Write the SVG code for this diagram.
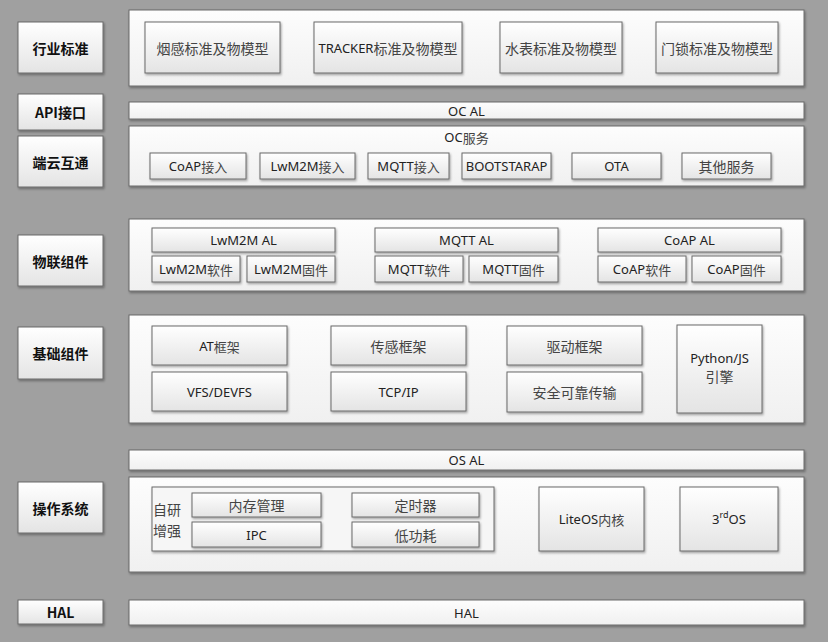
<svg xmlns="http://www.w3.org/2000/svg" width="828" height="642" viewBox="0 0 828 642">
<defs>
<linearGradient id="g" x1="0" y1="0" x2="0" y2="1">
<stop offset="0" stop-color="#ffffff"/>
<stop offset="1" stop-color="#e4e4e4"/>
</linearGradient>
<linearGradient id="gp" x1="0" y1="0" x2="0" y2="1">
<stop offset="0" stop-color="#fdfdfd"/>
<stop offset="1" stop-color="#f0f0f0"/>
</linearGradient>
<filter id="sh" x="-5%" y="-5%" width="115%" height="130%">
<feDropShadow dx="1" dy="1.5" stdDeviation="0.8" flood-color="#000" flood-opacity="0.35"/>
</filter>
</defs>
<style>
.bg{fill:#a0a0a0}
.lbl{fill:url(#g);stroke:#6a6a6a;stroke-width:1;filter:url(#sh)}
.pn{fill:url(#gp);stroke:#6a6a6a;stroke-width:1;filter:url(#sh)}
.bx{fill:url(#g);stroke:#6a6a6a;stroke-width:1;filter:url(#sh)}
.ct{fill:#f6f6f6;stroke:#6a6a6a;stroke-width:1;filter:url(#sh)}
text{font-family:"Noto Sans","Noto Sans CJK SC",sans-serif;font-size:13px;fill:#222;text-anchor:middle;dominant-baseline:central}
.h{font-family:"Noto Sans CJK SC",sans-serif;font-weight:bold;font-size:14px;fill:#111}
.c{font-family:"Noto Sans CJK SC",sans-serif;font-size:14px;fill:#444}
</style>
<rect class="bg" x="0" y="0" width="828" height="642"/>

<g id="labels">
<g id="lbl-industry"><rect class="lbl" x="18" y="22" width="85" height="51"/><text class="h" x="60.5" y="47.5">行业标准</text></g>
<g id="lbl-api"><rect class="lbl" x="18" y="94" width="85" height="36"/><text class="h" x="60.5" y="112">API接口</text></g>
<g id="lbl-cloud"><rect class="lbl" x="18" y="136" width="85" height="51"/><text class="h" x="60.5" y="161.5">端云互通</text></g>
<g id="lbl-iot"><rect class="lbl" x="18" y="235" width="85" height="51"/><text class="h" x="60.5" y="260.5">物联组件</text></g>
<g id="lbl-base"><rect class="lbl" x="18" y="327" width="85" height="52"/><text class="h" x="60.5" y="353">基础组件</text></g>
<g id="lbl-os"><rect class="lbl" x="18" y="482" width="85" height="51"/><text class="h" x="60.5" y="507.5">操作系统</text></g>
<g id="lbl-hal"><rect class="lbl" x="18" y="600" width="85" height="24"/><text class="h" x="60.5" y="612">HAL</text></g>
</g>

<g id="industry">
<rect class="pn" x="129" y="10" width="675" height="76"/>
<g id="smoke"><rect class="bx" x="145" y="22" width="135" height="51"/><text class="c" x="212.5" y="47.5">烟感标准及物模型</text></g>
<g id="tracker"><rect class="bx" x="314" y="22" width="148" height="51"/><text x="388" y="47.5">TRACKER<tspan class="c" style="font-family:'Noto Sans CJK SC',sans-serif;font-size:14px;fill:#444">标准及物模型</tspan></text></g>
<g id="water"><rect class="bx" x="500" y="22" width="122" height="51"/><text class="c" x="561" y="47.5">水表标准及物模型</text></g>
<g id="lock"><rect class="bx" x="656" y="22" width="122" height="51"/><text class="c" x="717" y="47.5">门锁标准及物模型</text></g>
</g>

<g id="ocal"><rect class="pn" x="129" y="102" width="675" height="17"/><text x="466.5" y="110.5">OC AL</text></g>

<g id="ocservice">
<rect class="pn" x="129" y="126" width="675" height="60"/>
<text x="466.5" y="136.5">OC<tspan style="font-family:'Noto Sans CJK SC',sans-serif;fill:#444">服务</tspan></text>
<g id="coap-in"><rect class="bx" x="150" y="153" width="96" height="26"/><text x="198" y="166">CoAP<tspan style="font-family:'Noto Sans CJK SC',sans-serif;fill:#444">接入</tspan></text></g>
<g id="lwm2m-in"><rect class="bx" x="260" y="153" width="95" height="26"/><text x="307.5" y="166">LwM2M<tspan style="font-family:'Noto Sans CJK SC',sans-serif;fill:#444">接入</tspan></text></g>
<g id="mqtt-in"><rect class="bx" x="368" y="153" width="81" height="26"/><text x="408.5" y="166">MQTT<tspan style="font-family:'Noto Sans CJK SC',sans-serif;fill:#444">接入</tspan></text></g>
<g id="bootstrap"><rect class="bx" x="462" y="153" width="89" height="26"/><text x="506.5" y="166">BOOTSTARAP</text></g>
<g id="ota"><rect class="bx" x="572" y="153" width="89" height="26"/><text x="616.5" y="166">OTA</text></g>
<g id="other"><rect class="bx" x="682" y="153" width="89" height="26"/><text class="c" x="726.5" y="166">其他服务</text></g>
</g>

<g id="iot">
<rect class="pn" x="129" y="219" width="675" height="72"/>
<g id="lwm2m-al"><rect class="bx" x="152" y="228" width="183" height="24"/><text x="243.5" y="240">LwM2M AL</text></g>
<g id="lwm2m-sw"><rect class="bx" x="152" y="256" width="88" height="26"/><text x="196" y="269">LwM2M<tspan style="font-family:'Noto Sans CJK SC',sans-serif;fill:#444">软件</tspan></text></g>
<g id="lwm2m-fw"><rect class="bx" x="247" y="256" width="88" height="26"/><text x="291" y="269">LwM2M<tspan style="font-family:'Noto Sans CJK SC',sans-serif;fill:#444">固件</tspan></text></g>
<g id="mqtt-al"><rect class="bx" x="375" y="228" width="183" height="24"/><text x="466.5" y="240">MQTT AL</text></g>
<g id="mqtt-sw"><rect class="bx" x="375" y="256" width="88" height="26"/><text x="419" y="269">MQTT<tspan style="font-family:'Noto Sans CJK SC',sans-serif;fill:#444">软件</tspan></text></g>
<g id="mqtt-fw"><rect class="bx" x="469" y="256" width="89" height="26"/><text x="513.5" y="269">MQTT<tspan style="font-family:'Noto Sans CJK SC',sans-serif;fill:#444">固件</tspan></text></g>
<g id="coap-al"><rect class="bx" x="598" y="228" width="183" height="24"/><text x="689.5" y="240">CoAP AL</text></g>
<g id="coap-sw"><rect class="bx" x="598" y="256" width="88" height="26"/><text x="642" y="269">CoAP<tspan style="font-family:'Noto Sans CJK SC',sans-serif;fill:#444">软件</tspan></text></g>
<g id="coap-fw"><rect class="bx" x="692" y="256" width="89" height="26"/><text x="736.5" y="269">CoAP<tspan style="font-family:'Noto Sans CJK SC',sans-serif;fill:#444">固件</tspan></text></g>
</g>

<g id="base">
<rect class="pn" x="129" y="315" width="675" height="108"/>
<g id="at"><rect class="bx" x="152" y="326" width="135" height="39"/><text x="219.5" y="345.5">AT<tspan style="font-family:'Noto Sans CJK SC',sans-serif;fill:#444">框架</tspan></text></g>
<g id="vfs"><rect class="bx" x="152" y="372" width="135" height="39"/><text x="219.5" y="391.5">VFS/DEVFS</text></g>
<g id="sensor"><rect class="bx" x="331" y="326" width="135" height="39"/><text class="c" x="398.5" y="345.5">传感框架</text></g>
<g id="tcpip"><rect class="bx" x="331" y="372" width="135" height="39"/><text x="398.5" y="391.5">TCP/IP</text></g>
<g id="driver"><rect class="bx" x="507" y="326" width="135" height="39"/><text class="c" x="574.5" y="345.5">驱动框架</text></g>
<g id="secure"><rect class="bx" x="507" y="372" width="135" height="40"/><text class="c" x="574.5" y="392">安全可靠传输</text></g>
<g id="python"><rect class="bx" x="677" y="325" width="85" height="88"/><text x="719.5" y="358">Python/JS</text><text class="c" x="719.5" y="376">引擎</text></g>
</g>

<g id="osal"><rect class="pn" x="129" y="450" width="675" height="20"/><text x="466.5" y="460">OS AL</text></g>

<g id="os">
<rect class="pn" x="129" y="477" width="675" height="95"/>
<g id="self">
<rect class="ct" x="152" y="487" width="342" height="64"/>
<text class="c" x="167" y="509">自研</text>
<text class="c" x="167" y="530">增强</text>
<g id="mem"><rect class="bx" x="192" y="493" width="129" height="24"/><text class="c" x="256.5" y="505">内存管理</text></g>
<g id="ipc"><rect class="bx" x="192" y="522" width="129" height="25"/><text x="256.5" y="534.5">IPC</text></g>
<g id="timer"><rect class="bx" x="352" y="493" width="127" height="24"/><text class="c" x="415.5" y="505">定时器</text></g>
<g id="lowpower"><rect class="bx" x="352" y="522" width="127" height="25"/><text class="c" x="415.5" y="534.5">低功耗</text></g>
</g>
<g id="liteos"><rect class="bx" x="539" y="487" width="105" height="64"/><text x="591.5" y="519">LiteOS<tspan style="font-family:'Noto Sans CJK SC',sans-serif;fill:#444">内核</tspan></text></g>
<g id="thirdos"><rect class="bx" x="680" y="487" width="98" height="64"/><text x="729" y="519">3<tspan dy="-5" style="font-size:9px">rd</tspan><tspan dy="5">OS</tspan></text></g>
</g>

<g id="hal"><rect class="pn" x="129" y="600" width="675" height="25"/><text x="466.5" y="612.5">HAL</text></g>

<g id="connectors"/>
</svg>
